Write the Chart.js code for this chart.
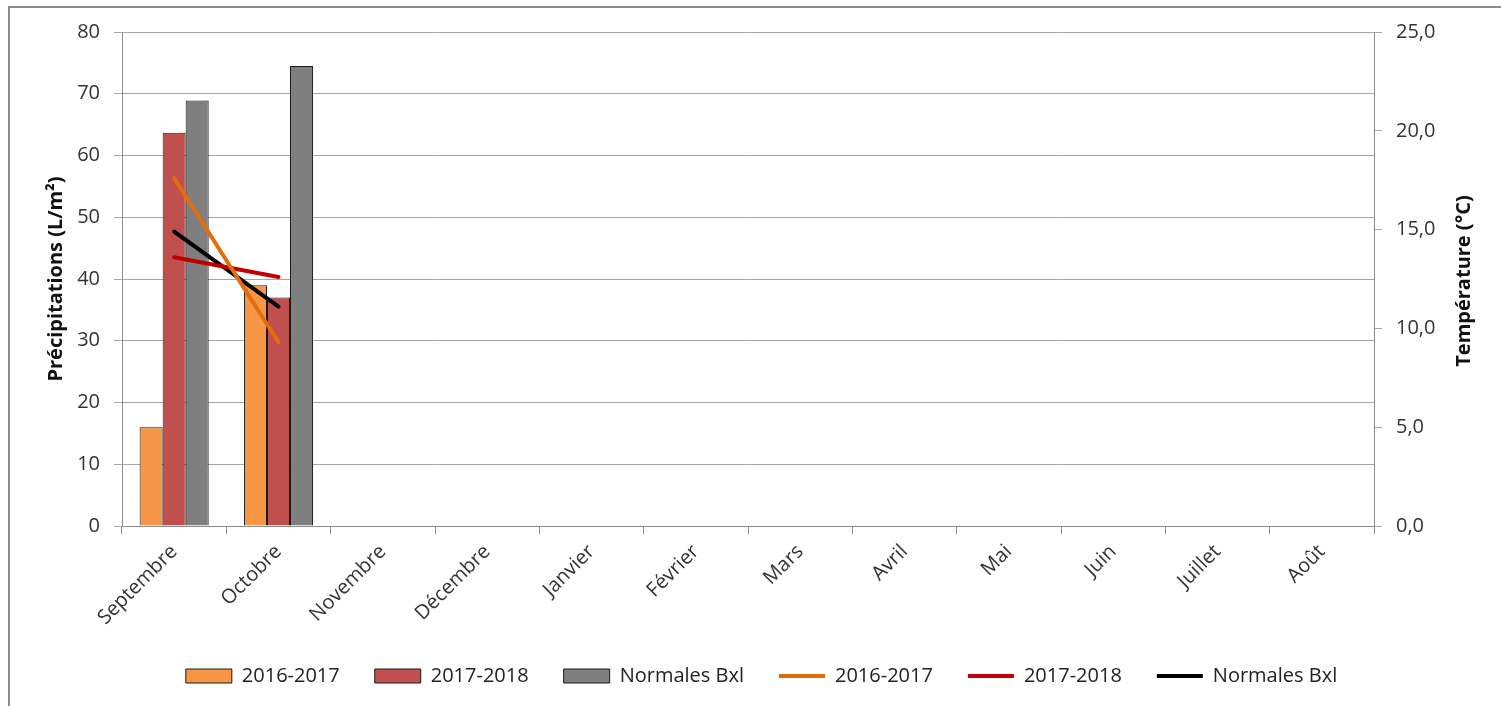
<!DOCTYPE html>
<html lang="fr">
<head>
<meta charset="utf-8">
<title>Précipitations et températures</title>
<script src="https://cdn.jsdelivr.net/npm/chart.js@4.4.1/dist/chart.umd.min.js"></script>
<style>
  html, body { margin: 0; padding: 0; background: #fff; overflow: hidden; }
  #cadre { position: absolute; left: 8px; top: 6px; width: 1600px; height: 800px;
           border-left: 2px solid #8c8c8c; border-top: 2px solid #8c8c8c; }
  #zone { position: absolute; left: 0; top: 0; width: 1501px; height: 706px; }
</style>
</head>
<body>
<div id="cadre"></div>
<div id="zone"><canvas id="graphique"></canvas></div>
<script>
// Mois de l'année hydrologique (septembre -> août)
const mois = ['Septembre', 'Octobre', 'Novembre', 'Décembre', 'Janvier', 'Février',
              'Mars', 'Avril', 'Mai', 'Juin', 'Juillet', 'Août'];
const saisons = ['2016-2017', '2017-2018', 'Normales Bxl'];

// Précipitations mensuelles (L/m²)
const precip2016 = [16.0, 39.0, null, null, null, null, null, null, null, null, null, null];
const precip2017 = [63.7, 37.0, null, null, null, null, null, null, null, null, null, null];
const precipNormales = [68.9, 74.5, null, null, null, null, null, null, null, null, null, null];

// Températures moyennes (°C)
const temp2016 = [17.6, 9.3, null, null, null, null, null, null, null, null, null, null];
const temp2017 = [13.6, 12.6, null, null, null, null, null, null, null, null, null, null];
const tempNormales = [14.9, 11.1, null, null, null, null, null, null, null, null, null, null];

// Graduations des deux axes
const axePrecip = { min: 0, max: 80, pas: 10 };
const axeTemp = { min: 0, max: 25, pas: 5 };

const police = "'Open Sans', 'Noto Sans', sans-serif";
const gris = '#a6a6a6';
const titreTemp = 'Température (°C)';

function barres(label, data, couleur) {
    return {
        type: 'bar', label: label, data: data, yAxisID: 'y', order: 1,
        backgroundColor: couleur, borderColor: '#1a1a1a', borderWidth: 1,
        pointStyle: 'rect'
    };
}

function courbe(label, data, couleur) {
    return {
        type: 'line', label: label, data: data, yAxisID: 'y1', order: 0,
        borderColor: couleur, backgroundColor: couleur, borderWidth: 4,
        pointRadius: 0, pointHoverRadius: 0, pointBorderWidth: 4,
        pointStyle: 'line', borderCapStyle: 'round', tension: 0, spanGaps: false
    };
}

// Titre de l'axe de droite, écrit de bas en haut comme celui de gauche
const titreDroite = {
    id: 'titreDroite',
    afterDraw(chart) {
        const c = chart.ctx;
        const zone = chart.chartArea;
        c.save();
        c.translate(1464, (zone.top + zone.bottom) / 2 + 2);
        c.rotate(-Math.PI / 2);
        c.font = 'bold 20px ' + police;
        c.fillStyle = '#111';
        c.textAlign = 'center';
        c.textBaseline = 'middle';
        c.fillText(titreTemp, 0, 0);
        c.restore();
    }
};

const ctx = document.getElementById('graphique').getContext('2d');
new Chart(ctx, {
    data: {
        labels: mois,
        datasets: [
            barres(saisons[0], precip2016, '#f79646'),
            barres(saisons[1], precip2017, '#c0504d'),
            barres(saisons[2], precipNormales, '#7f7f7f'),
            courbe(saisons[0], temp2016, '#e46c0a'),
            courbe(saisons[1], temp2017, '#c00000'),
            courbe(saisons[2], tempNormales, '#000000')
        ]
    },
    plugins: [titreDroite],
    options: {
        responsive: true,
        maintainAspectRatio: false,
        animation: false,
        layout: { padding: { left: 22, right: 0, top: 32, bottom: 10 } },
        datasets: { bar: { barPercentage: 1, categoryPercentage: 0.662 } },
        plugins: {
            tooltip: { enabled: false },
            legend: {
                position: 'bottom',
                labels: {
                    usePointStyle: true,
                    pointStyleWidth: 46,
                    boxHeight: 14,
                    padding: 35,
                    color: '#222',
                    font: { family: police, size: 20 },
                    sort: (a, b) => a.datasetIndex - b.datasetIndex
                }
            }
        },
        scales: {
            x: {
                grid: { offset: true, drawOnChartArea: false, drawTicks: true, tickLength: 8, color: '#8c8c8c' },
                border: { color: '#8c8c8c' },
                ticks: { minRotation: 45, maxRotation: 45, padding: 6, color: '#333',
                         font: { family: police, size: 20 } },
                afterFit: function(axe) { axe.height = 105; }
            },
            y: {
                position: 'left',
                min: axePrecip.min, max: axePrecip.max,
                ticks: { stepSize: axePrecip.pas, padding: 14, color: '#333',
                         font: { family: police, size: 20 } },
                grid: { color: gris, tickLength: 8 },
                border: { color: '#8c8c8c' },
                title: { display: true, text: 'Précipitations (L/m²)', color: '#111',
                         padding: { top: 22, bottom: 0 },
                         font: { family: police, size: 20, weight: 'bold' } },
                afterFit: function(axe) { axe.width = 100; }
            },
            y1: {
                position: 'right',
                min: axeTemp.min, max: axeTemp.max,
                ticks: { stepSize: axeTemp.pas, padding: 14, color: '#333',
                         font: { family: police, size: 20 },
                         callback: function(v) { return v.toFixed(1).replace('.', ','); } },
                grid: { drawOnChartArea: false, color: gris, tickLength: 8 },
                border: { color: '#8c8c8c' },
                afterFit: function(axe) { axe.width = 127; }
            }
        }
    }
});
</script>
</body>
</html>
